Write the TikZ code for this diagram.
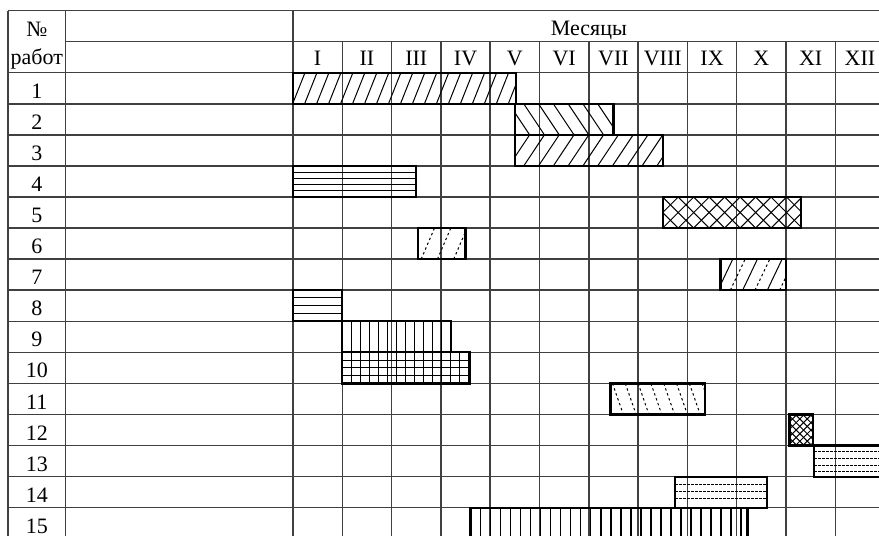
\documentclass[tikz,border=0pt]{standalone}
\usepackage{fontspec}
\setmainfont{Liberation Serif}

% hatching helpers: #1 row, #2 from, #3 to, #4 step, #5 run
\newcommand{\nelines}[6][]{%
  \foreach \k in {0,...,50} \draw[hatch,#1] ({#3-#6+\k*#5},#2) -- ++(#6,-1);}
\newcommand{\nwlines}[6][]{%
  \foreach \k in {0,...,50} \draw[hatch,#1] ({#3-#6+\k*#5},#2-1) -- ++(#6,1);}
\newcommand{\vlines}[5][]{%
  \foreach \k in {1,...,40} \draw[hatch,#1] ({#3+\k*#5},#2-1) -- ++(0,1);}
\newcommand{\hlines}[5][]{%
  \foreach \f in {#5} \draw[hatch,#1] (#3,#2-\f) -- (#4,#2-\f);}
% #1 row, #2 from, #3 to, #4 hatching
\newcommand{\ganttbar}[4]{%
  \begin{scope}
    \clip (#2,#1-1) rectangle (#3,#1);
    #4
  \end{scope}
  \draw[workbar] (#2,#1-1) rectangle (#3,#1);}

\begin{document}
\begin{tikzpicture}[
    x=24.65pt, y=-15.535pt,
    grid/.style={draw=black!75, line width=0.75pt},
    workbar/.style={draw=black, line width=1.1pt},
    hatch/.style={line width=0.5pt},
    dhatch/.style={dash pattern=on 1.2pt off 1.4pt},
    fhatch/.style={dash pattern=on 1.3pt off 0.7pt},
    label/.style={font=\fontsize{11}{13}\selectfont, inner sep=0pt, anchor=base},
]
\useasboundingbox (-5.943,-2.34) rectangle (11.886,14.91);

% --- Grid ---
\draw[grid] (-5.781,-2) -- (12,-2);
\draw[grid] (-4.611,-1) -- (12,-1);
\foreach \r in {0,...,15}
  \draw[grid] (-5.781,\r) -- (12,\r);
\draw[grid] (-5.781,-2) -- (-5.781,15);
\draw[grid] (-4.611,-2) -- (-4.611,15);
\draw[grid] (0,-2) -- (0,15);
\foreach \m in {1,...,12}
  \draw[grid] (\m,-1) -- (\m,15);

% --- Header ---
\node[label] (no) at (-5.196,-1.16) {№};
\node[label] (rabot) at (-5.196,-0.25) {работ};
\node[label] (months) at (6,-1.21) {Месяцы};
\foreach \m [count=\i] in {I,II,III,IV,V,VI,VII,VIII,IX,X,XI,XII}
  \node[label] (m\i) at (\i-0.5,-0.225) {\m};

% --- Work numbers ---
\foreach \r in {1,...,15}
  \node[label] (n\r) at (-5.196,\r-0.175) {\r};

% --- Bars ---
\ganttbar{1}{0}{4.52}{\nelines{1}{0}{4.52}{0.243}{0.25}}
\ganttbar{2}{4.5}{6.5}{\nwlines{2}{4.5}{6.5}{0.3}{0.42}}
\ganttbar{3}{4.5}{7.5}{\nelines{3}{4.5}{7.5}{0.3}{0.42}}
\ganttbar{4}{0}{2.5}{\hlines{4}{0}{2.5}{0.2,0.4,0.6,0.8}}
\ganttbar{5}{7.5}{10.31}{\nelines{5}{7.5}{10.31}{0.314}{0.63}
  \nwlines{5}{7.5}{10.31}{0.314}{0.63}}
\ganttbar{6}{2.54}{3.5}{\nelines[dhatch]{6}{2.54}{3.5}{0.33}{0.27}}
\ganttbar{7}{8.67}{10}{\nelines[dhatch]{7}{8.67}{10}{0.5}{0.3}
  \nelines{7}{8.92}{10.25}{0.5}{0.3}}
\ganttbar{8}{0}{1}{\hlines{8}{0}{1}{0.25,0.5,0.75}}
\ganttbar{9}{1}{3.21}{\vlines{9}{1}{3.21}{0.183}}
\ganttbar{10}{1}{3.58}{\vlines{10}{1}{3.58}{0.183}
  \hlines{10}{1}{3.58}{0.25,0.5,0.75}}
\ganttbar{11}{6.44}{8.36}{\nwlines[dhatch]{11}{6.44}{8.36}{0.26}{0.22}}
\ganttbar{12}{10.07}{10.55}{\nelines{12}{10.07}{10.55}{0.15}{0.63}
  \nwlines{12}{10.07}{10.55}{0.15}{0.63}}
\ganttbar{13}{10.57}{12}{\hlines[fhatch]{13}{10.57}{12}{0.17,0.37,0.58,0.8}}
\ganttbar{14}{7.75}{9.62}{\hlines[fhatch]{14}{7.75}{9.62}{0.29,0.53,0.75}}
\ganttbar{15}{3.6}{9.22}{\vlines[line width=0.9pt]{15}{3.6}{9.22}{0.203}}
\end{tikzpicture}
\end{document}
